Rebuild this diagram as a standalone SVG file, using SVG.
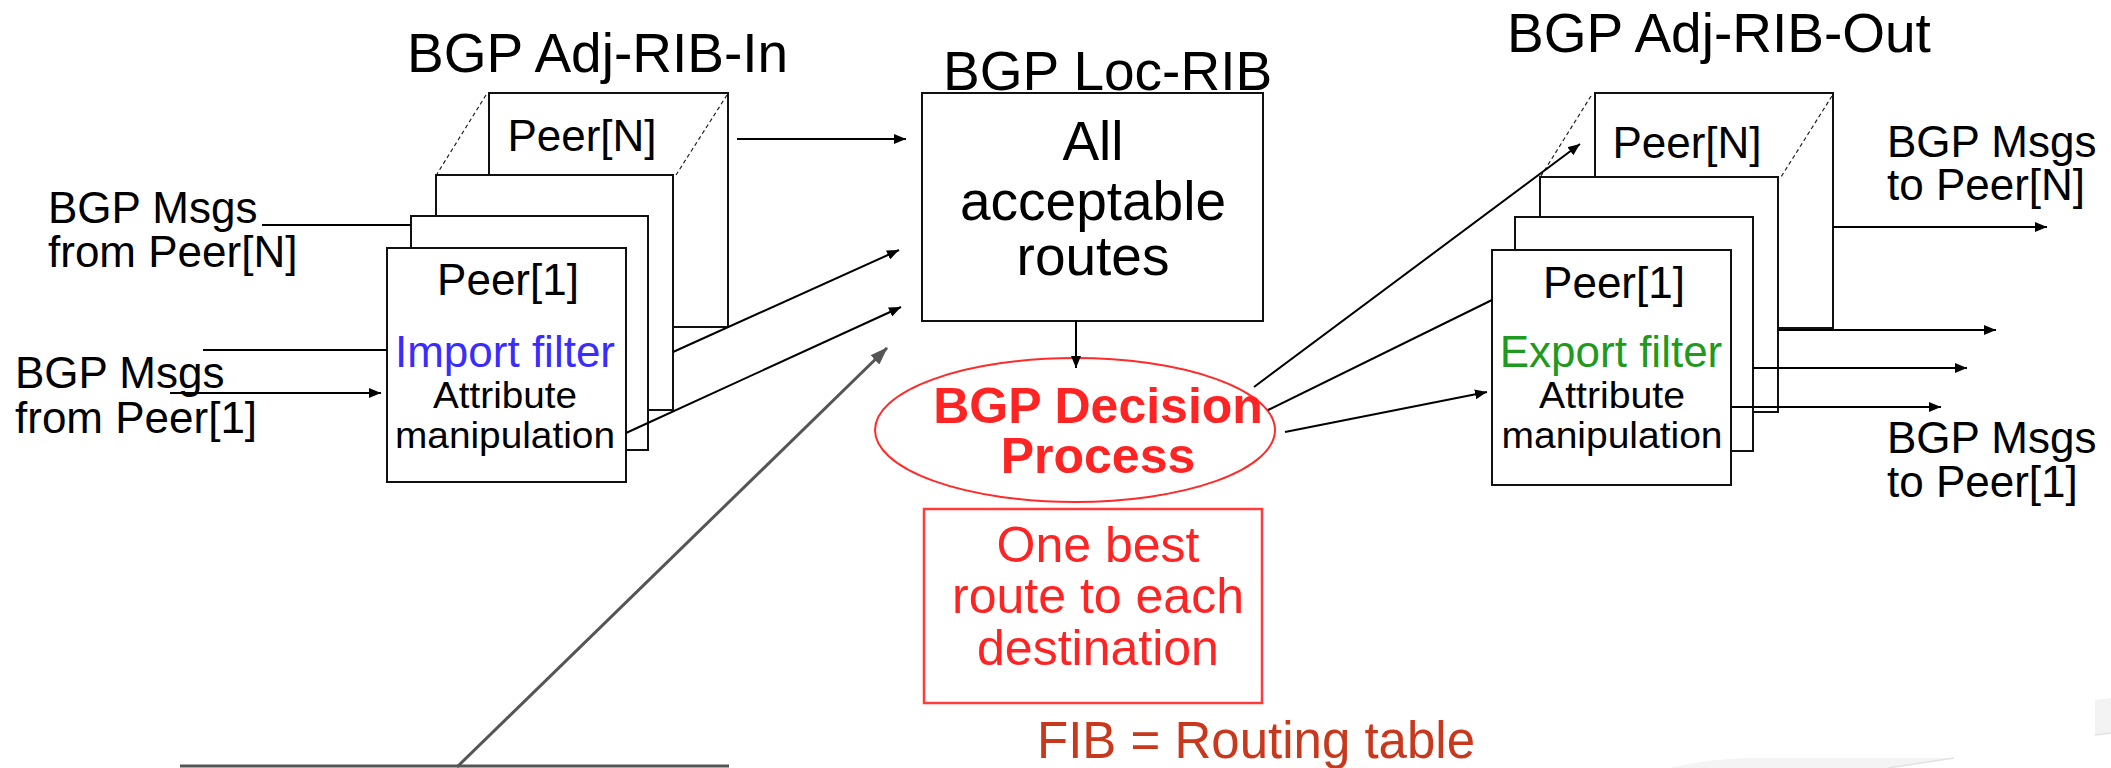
<svg xmlns="http://www.w3.org/2000/svg" width="2111" height="768" viewBox="0 0 2111 768">
  <style>
    text { font-family: "Liberation Sans", Arial, Helvetica, sans-serif; fill: #000; }
    .title { font-size: 55px; }
    .peer { font-size: 44px; text-anchor: middle; }
    .attr { font-size: 36px; text-anchor: middle; }
    .side { font-size: 44px; }
    .box { fill: #fff; stroke: #111; stroke-width: 2; }
    .dash { stroke: #222; stroke-width: 1.2; stroke-dasharray: 4 3; fill: none; }
    .ln { stroke: #000; stroke-width: 2; fill: none; }
    .arr { marker-end: url(#head); }
    .gray { stroke: #555; stroke-width: 3; fill: none; }
    .red { fill: #ff2424; }
  </style>
  <defs>
    <marker id="head" markerUnits="userSpaceOnUse" markerWidth="12" markerHeight="10" refX="12" refY="5" orient="auto">
      <path d="M0,0 L12,5 L0,10 Z" fill="#000"/>
    </marker>
    <marker id="headGray" markerUnits="userSpaceOnUse" markerWidth="18" markerHeight="13" refX="17" refY="6.5" orient="auto">
      <path d="M0,0 L18,6.5 L0,13 Z" fill="#555"/>
    </marker>
  </defs>

  <rect width="2111" height="768" fill="#fff"/>

  <!-- faint page-curl shading, lower right -->
  <g id="corner-shade">
    <path d="M1669,768 C1700,761 1725,758 1765,758 L1954,758 L1888,768 Z" fill="#f4f4f4"/>
    <path d="M1888,768 L1954,758" stroke="#e2e2e2" stroke-width="1.5"/>
    <path d="M2095,700 L2111,698 L2111,733 L2095,735 Z" fill="#f3f3f3"/>
    <path d="M2095,735 L2111,733" stroke="#e2e2e2" stroke-width="1.5"/>
  </g>

  <!-- incoming message labels -->
  <g id="msgs-in-n">
    <text class="side" x="48" y="223">BGP Msgs</text>
    <text class="side" x="48" y="267">from Peer[N]</text>
  </g>
  <g id="msgs-in-1">
    <text class="side" x="15" y="388">BGP Msgs</text>
    <text class="side" x="15" y="433">from Peer[1]</text>
  </g>

  <!-- Adj-RIB-In: stacked per-peer tables -->
  <g id="adj-rib-in">
    <text class="title" x="407" y="72">BGP Adj-RIB-In</text>
    <rect class="box" x="489" y="93" width="239" height="234"/>
    <text class="peer" x="582" y="151">Peer[N]</text>
    <line class="dash" x1="486" y1="95" x2="437" y2="174"/>
    <line class="dash" x1="727" y1="95" x2="676" y2="175"/>
    <rect class="box" x="436" y="175" width="237" height="235"/>
    <rect class="box" x="411" y="216" width="237" height="234"/>
    <rect class="box" x="387" y="248" width="239" height="234"/>
    <text class="peer" x="508" y="295">Peer[1]</text>
    <text class="peer" x="505" y="367" style="fill:#3a2cff">Import filter</text>
    <text class="attr" x="505" y="408" textLength="144" lengthAdjust="spacingAndGlyphs">Attribute</text>
    <text class="attr" x="505" y="448" textLength="220" lengthAdjust="spacingAndGlyphs">manipulation</text>
  </g>

  <!-- Loc-RIB -->
  <g id="loc-rib">
    <rect class="box" x="922" y="93" width="341" height="228"/>
    <text class="title" x="943" y="90">BGP Loc-RIB</text>
    <text class="title" x="1093" y="160" text-anchor="middle">All</text>
    <text class="title" x="1093" y="220" text-anchor="middle">acceptable</text>
    <text class="title" x="1093" y="275" text-anchor="middle">routes</text>
  </g>

  <!-- decision process -->
  <g id="decision">
    <ellipse cx="1075" cy="430" rx="200" ry="72" fill="#fff" stroke="#ff2a2a" stroke-width="2"/>
    <text class="red" x="1098" y="423" text-anchor="middle" font-size="50" font-weight="bold">BGP Decision</text>
    <text class="red" x="1098" y="473" text-anchor="middle" font-size="50" font-weight="bold">Process</text>
  </g>

  <!-- best routes table -->
  <g id="best-routes">
    <rect x="924" y="509" width="338" height="194" fill="#fff" stroke="#ff3b3b" stroke-width="2.5"/>
    <text class="red" x="1098" y="562" text-anchor="middle" font-size="50">One best</text>
    <text class="red" x="1098" y="613" text-anchor="middle" font-size="50">route to each</text>
    <text class="red" x="1098" y="665" text-anchor="middle" font-size="50">destination</text>
  </g>

  <g id="fib">
    <text x="1037" y="758" font-size="51" style="fill:#c8381c">FIB = Routing table</text>
  </g>

  <!-- Adj-RIB-Out: stacked per-peer tables -->
  <g id="adj-rib-out">
    <text class="title" x="1507" y="52">BGP Adj-RIB-Out</text>
    <rect class="box" x="1595" y="93" width="238" height="235"/>
    <text class="peer" x="1687" y="158">Peer[N]</text>
    <line class="dash" x1="1591" y1="96" x2="1541" y2="176"/>
    <line class="dash" x1="1832" y1="96" x2="1781" y2="177"/>
    <rect class="box" x="1540" y="177" width="238" height="235"/>
    <rect class="box" x="1515" y="217" width="238" height="234"/>
    <rect class="box" x="1492" y="250" width="239" height="235"/>
    <text class="peer" x="1614" y="298">Peer[1]</text>
    <text class="peer" x="1611" y="367" style="fill:#1f9a1f">Export filter</text>
    <text class="attr" x="1612" y="408" textLength="146" lengthAdjust="spacingAndGlyphs">Attribute</text>
    <text class="attr" x="1612" y="448" textLength="221" lengthAdjust="spacingAndGlyphs">manipulation</text>
  </g>

  <!-- outgoing message labels -->
  <g id="msgs-out-n">
    <text class="side" x="1887" y="157">BGP Msgs</text>
    <text class="side" x="1887" y="200">to Peer[N]</text>
  </g>
  <g id="msgs-out-1">
    <text class="side" x="1887" y="453">BGP Msgs</text>
    <text class="side" x="1887" y="497">to Peer[1]</text>
  </g>

  <!-- connectors -->
  <g id="connectors">
    <line class="ln" x1="262" y1="225" x2="411" y2="225"/>
    <line class="ln" x1="203" y1="350" x2="387" y2="350"/>
    <line class="ln arr" x1="170" y1="393" x2="381" y2="393"/>
    <line class="ln arr" x1="737" y1="139" x2="906" y2="139"/>
    <line class="ln arr" x1="673" y1="352" x2="899" y2="250"/>
    <line class="ln arr" x1="626" y1="433" x2="901" y2="307"/>
    <line class="ln arr" x1="1076" y1="321" x2="1076" y2="368"/>
    <line class="ln arr" x1="1254" y1="387" x2="1580" y2="144"/>
    <line class="ln" x1="1268" y1="410" x2="1492" y2="300"/>
    <line class="ln arr" x1="1285" y1="432" x2="1487" y2="392"/>
    <line class="ln arr" x1="1833" y1="227" x2="2047" y2="227"/>
    <line class="ln arr" x1="1778" y1="330" x2="1996" y2="330"/>
    <line class="ln arr" x1="1753" y1="368" x2="1967" y2="368"/>
    <line class="ln arr" x1="1731" y1="407" x2="1941" y2="407"/>
    <line class="gray" x1="457" y1="767" x2="887" y2="348" marker-end="url(#headGray)"/>
    <line class="gray" x1="180" y1="766" x2="729" y2="766"/>
  </g>
</svg>
